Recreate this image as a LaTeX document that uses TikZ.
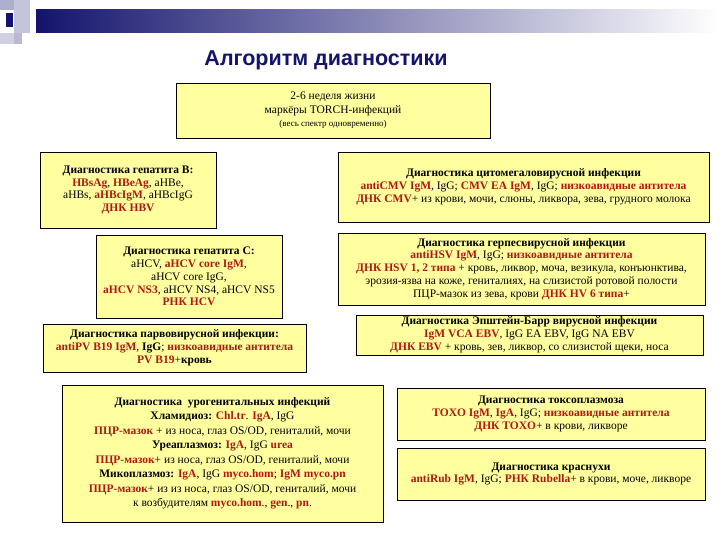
\documentclass[tikz,border=0pt]{standalone}
\usepackage{fontspec}
\setmainfont{Liberation Serif}
\newfontfamily\titlefont{Liberation Sans}
\definecolor{boxy}{RGB}{255,255,160}
\definecolor{rd}{RGB}{175,25,15}
\definecolor{navy}{RGB}{20,20,110}
\newcommand{\R}[1]{\textbf{\color{rd}#1}}
\begin{document}
\begin{tikzpicture}[x=1pt,y=-1pt,
 bx/.style={draw=black,line width=0.8pt,fill=boxy,align=center,inner sep=1pt,font=\fontsize{11.5}{12.8}\selectfont}]
\useasboundingbox (0,0) rectangle (720,540);
\fill[white] (0,0) rectangle (720,540);
% header decoration
\shade[left color=navy,right color=white] (36,10) rectangle (720,33);
\fill[navy!35] (0,0) rectangle (14,10);
\fill[navy!25] (14,0) rectangle (30,33);
\fill[navy!20] (0,33) rectangle (14,44);
\fill[navy!30] (14,33) rectangle (22,44);
\fill[navy] (6,13) rectangle (13,27);
\node[font=\titlefont\bfseries\fontsize{21.5}{24}\selectfont,text=navy] (title) at (326,60) {Алгоритм диагностики};
\node[bx,minimum width=314,minimum height=55,font=\fontsize{11.5}{13.5}\selectfont] (top) at (333,110.5) {2-6 неделя жизни\\маркёры TORCH-инфекций\\{\fontsize{9}{13}\selectfont(весь спектр одновременно)}};
\node[bx,minimum width=176,minimum height=76] (hbv) at (128,190) {\textbf{Диагностика гепатита В:}\\\R{HBsAg}, \R{HBeAg}, aHBe,\\aHBs, \R{aHBcIgM}, aHBcIgG\\\R{ДНК HBV}};
\node[bx,minimum width=186,minimum height=83] (hcv) at (189,276.5) {\textbf{Диагностика гепатита С:}\\aHCV, \R{aHCV core IgM},\\aHCV core IgG,\\\R{aHCV NS3}, aHCV NS4, aHCV NS5\\\R{РНК HCV}};
\node[bx,minimum width=263,minimum height=48] (pv) at (174.5,348) {\textbf{Диагностика парвовирусной инфекции:}\\\R{antiPV B19 IgM}, \textbf{IgG}; \R{низкоавидные антитела}\\\R{PV B19}+\textbf{кровь}};
\node[bx,minimum width=321,minimum height=137,font=\fontsize{11.5}{14.5}\selectfont] (uro) at (222.5,453.5) {\textbf{Диагностика \ урогенитальных инфекций}\\\textbf{Хламидиоз: }\R{Chl.tr}. \R{IgA}, IgG\\\R{ПЦР-мазок} + из носа, глаз OS/OD, гениталий, мочи\\\textbf{Уреаплазмоз: }\R{IgA}, IgG \R{urea}\\\R{ПЦР-мазок}+ из носа, глаз OS/OD, гениталий, мочи\\\textbf{Микоплазмоз: }\R{IgA}, IgG \R{myco.hom}; \R{IgM myco.pn}\\\R{ПЦР-мазок}+ из из носа, глаз OS/OD, гениталий, мочи\\к возбудителям \R{myco.hom}., \R{gen}., \R{pn}.};
\node[bx,minimum width=371,minimum height=70] (cmv) at (523.5,187) {\textbf{Диагностика цитомегаловирусной инфекции}\\\R{antiCMV IgM}, IgG; \R{CMV EA IgM}, IgG; \R{низкоавидные антитела}\\\R{ДНК CMV}+ из крови, мочи, слюны, ликвора, зева, грудного молока};
\node[bx,minimum width=367,minimum height=72] (hsv) at (521.5,269) {\textbf{Диагностика герпесвирусной инфекции}\\\R{antiHSV IgM}, IgG; \R{низкоавидные антитела}\\\R{ДНК HSV 1, 2 типа} + кровь, ликвор, моча, везикула, конъюнктива,\\эрозия-язва на коже, гениталиях, на слизистой ротовой полости\\ПЦР-мазок из зева, крови \R{ДНК HV 6 типа}+};
\node[bx,minimum width=347,minimum height=40] (ebv) at (529.5,335) {\textbf{Диагностика Эпштейн-Барр вирусной инфекции}\\\R{IgM VCA EBV}, IgG EA EBV, IgG NA EBV\\\R{ДНК EBV} + кровь, зев, ликвор, со слизистой щеки, носа};
\node[bx,minimum width=308,minimum height=52] (toxo) at (551,414) {\textbf{Диагностика токсоплазмоза}\\\R{TOXO IgM}, \R{IgA}, IgG; \R{низкоавидные антитела}\\\R{ДНК TOXO}+ в крови, ликворе};
\node[bx,minimum width=308,minimum height=52] (rub) at (551,474) {\textbf{Диагностика краснухи}\\\R{antiRub IgM}, IgG; \R{РНК Rubella}+ в крови, моче, ликворе};
\end{tikzpicture}
\end{document}
